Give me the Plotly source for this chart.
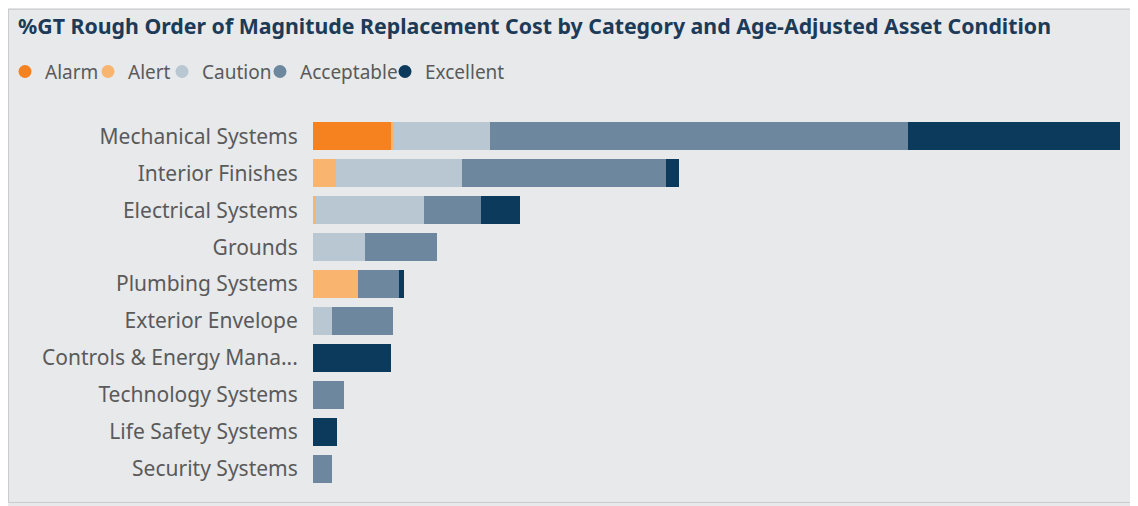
import plotly.graph_objects as go

categories = ["Mechanical Systems", "Interior Finishes", "Electrical Systems", "Grounds",
              "Plumbing Systems", "Exterior Envelope", "Controls & Energy Mana...",
              "Technology Systems", "Life Safety Systems", "Security Systems"]
conditions = ["Alarm", "Alert", "Caution", "Acceptable", "Excellent"]

# % of grand total replacement cost
alarm      = [4.27, 0,    0,    0,    0,    0,    0,    0,    0,    0]
alert      = [0.16, 1.26, 0.16, 0,    2.46, 0,    0,    0,    0,    0]
caution    = [5.25, 6.90, 5.91, 2.85, 0,    1.04, 0,    0,    0,    0]
acceptable = [22.88, 11.17, 3.12, 3.94, 2.24, 3.34, 0,  1.70, 0,    1.04]
excellent  = [11.60, 0.71, 2.13, 0,    0.27, 0,    4.27, 0,   1.31, 0]

series = [alarm, alert, caution, acceptable, excellent]
colors = ["#F5821F", "#F9B46F", "#B9C7D3", "#6D889E", "#0B3A5C"]

BG = "#e7e9eb"
OFF = 8  # page offset of the figure inside the browser window
W, H = 1138 - OFF, 506 - OFF
L, R = 313 - OFF, 1120 - OFF
T, B = 117.5 - OFF, 487.5 - OFF
pw, ph = R - L, B - T


def px(x_page):
    return (x_page - OFF - L) / pw


def py(y_page):
    return (B - (y_page - OFF)) / ph


legend_names = ["legend", "legend2", "legend3", "legend4", "legend5"]
legend_circle_x = [25, 108, 182, 280, 405]  # page x of legend circles

fig = go.Figure()
for i, (name, vals, col) in enumerate(zip(conditions, series, colors)):
    fig.add_trace(go.Bar(
        y=categories, x=vals, name=name, orientation="h",
        marker=dict(color=col, line=dict(width=0)),
        showlegend=False,
    ))
    fig.add_trace(go.Scatter(
        x=[None], y=[None], mode="markers", name=name,
        marker=dict(color=col, size=13, symbol="circle"),
        showlegend=True, legend=legend_names[i],
    ))

legend_layouts = {}
for i, ln in enumerate(legend_names):
    legend_layouts[ln] = dict(
        orientation="h",
        x=px(legend_circle_x[i] - 20), xanchor="left",
        y=py(71), yanchor="middle",
        font=dict(family="Noto Sans", size=19, color="#5a5a5a"),
        bgcolor="rgba(0,0,0,0)",
        itemwidth=30,
    )

fig.update_layout(
    width=W, height=H,
    margin=dict(l=L, r=W - R, t=T, b=H - B, autoexpand=False),
    barmode="stack",
    bargap=0.24,
    paper_bgcolor=BG,
    plot_bgcolor=BG,
    font=dict(family="Noto Sans", color="#5a5a5a"),
    title=dict(
        text="<b>%GT Rough Order of Magnitude Replacement Cost by Category and Age-Adjusted Asset Condition</b>",
        x=(18 - OFF) / W, xanchor="left", xref="container",
        y=1 - (27 - OFF) / H, yanchor="middle", yref="container",
        font=dict(family="Noto Sans", size=21.3, color="#1d3a57"),
    ),
    xaxis=dict(
        range=[0, sum(s[0] for s in series)],
        showticklabels=False, showgrid=False, zeroline=False, showline=False,
    ),
    yaxis=dict(
        categoryorder="array", categoryarray=categories, autorange="reversed",
        showgrid=False, zeroline=False, showline=False,
        ticks="outside", ticklen=10, tickcolor="rgba(0,0,0,0)",
        tickfont=dict(family="Noto Sans", size=21, color="#5a5a5a"),
    ),
    shapes=[dict(
        type="rect", xref="paper", yref="paper", layer="below",
        x0=px(OFF + 0.5), x1=px(1133), y0=py(503), y1=py(OFF + 0.5),
        fillcolor=BG, line=dict(color="#c9cbcd", width=1),
    )],
    **legend_layouts,
)

fig.write_html("out.html")
